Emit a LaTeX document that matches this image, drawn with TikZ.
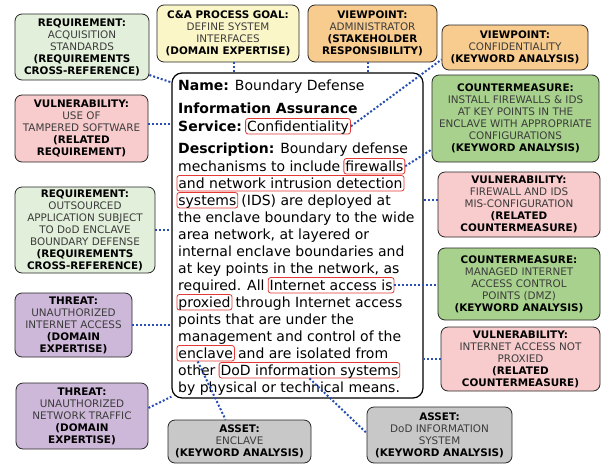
\documentclass[tikz,border=0pt]{standalone}
\usepackage{fontspec}
\setmainfont{DejaVu Sans}
\usepackage{xcolor}
\usepackage{tikz}
\usetikzlibrary{calc,positioning}
\definecolor{reqgreen}{RGB}{226,239,218}
\definecolor{goalyellow}{RGB}{251,246,200}
\definecolor{viewor}{RGB}{248,203,142}
\definecolor{cmgreen}{RGB}{168,209,141}
\definecolor{vulpink}{RGB}{248,203,205}
\definecolor{thrpurple}{RGB}{206,184,217}
\definecolor{assetgray}{RGB}{200,200,200}
\definecolor{hlred}{RGB}{229,57,53}
\definecolor{linkblue}{RGB}{40,78,180}
\definecolor{inkgray}{RGB}{60,60,60}

\begin{document}
\begin{tikzpicture}[x=1pt, y=-1pt,
  card/.style={draw=black!85, line width=0.8pt, rounded corners=7pt, align=center, inner sep=2pt,
    text=inkgray, font=\fontsize{10.4}{12}\selectfont},
  txt/.style={anchor=base west, inner sep=0pt, font=\fontsize{14}{17}\selectfont},
  hl/.style={txt, draw=hlred, line width=0.8pt, rounded corners=2.5pt, inner xsep=1.5pt, inner ysep=0.5pt,
    text height=12pt, text depth=2.5pt},
  link/.style={draw=linkblue, line width=2pt, dash pattern=on 2pt off 2pt}]
  \useasboundingbox (0,0) rectangle (602,464);

  % Central description card
  \node (core) at (297.5,235.5) [draw=black, line width=1.2pt, rounded corners=10pt, fill=white, minimum width=251, minimum height=325] {};

  \node (l1) at (178,90) [txt] {\textbf{Name:} Boundary Defense};
  \node (l2) at (178,113) [txt] {\textbf{Information Assurance}};
  \node (l3) at (178,131) [txt] {\textbf{Service:}};
  \node (conf) at ([xshift=3pt]l3.base east) [hl] {Confidentiality};
  \node (l4) at (178,153) [txt] {\textbf{Description:} Boundary defense};
  \node (l5) at (178,171) [txt] {mechanisms to include};
  \node (fw) at ([xshift=3pt]l5.base east) [hl] {firewalls};
  \node (nids) at (176.5,188) [hl] {and network intrusion detection};
  \node (sys) at (176.5,205) [hl] {systems};
  \node (l7) at ([xshift=3pt]sys.base east) [txt] {(IDS) are deployed at};
  \node (l8) at (178,222) [txt] {the enclave boundary to the wide};
  \node (l9) at (178,239) [txt] {area network, at layered or};
  \node (l10) at (178,256) [txt] {internal enclave boundaries and};
  \node (l11) at (178,273) [txt] {at key points in the network, as};
  \node (l12) at (178,290) [txt] {required. All};
  \node (ias) at ([xshift=3pt]l12.base east) [hl] {Internet access is};
  \node (prox) at (176.5,307) [hl] {proxied};
  \node (l13) at ([xshift=3pt]prox.base east) [txt] {through Internet access};
  \node (l14) at (178,324) [txt] {points that are under the};
  \node (l15) at (178,341) [txt] {management and control of the};
  \node (encl) at (176.5,358) [hl] {enclave};
  \node (l16) at ([xshift=3pt]encl.base east) [txt] {and are isolated from};
  \node (l17) at (178,375) [txt] {other};
  \node (dod) at ([xshift=3pt]l17.base east) [hl] {DoD information systems};
  \node (l18) at (178,392) [txt] {by physical or technical means.};

  % Top row
  \node (reqacq) at (82,47) [card, fill=reqgreen, minimum width=134, minimum height=66]
    {\textbf{\color{black}REQUIREMENT:}\\ACQUISITION\\STANDARDS\\\textbf{\color{black}(REQUIREMENTS}\\\textbf{\color{black}CROSS-REFERENCE)}};
  \node (cagoal) at (228,33.5) [card, fill=goalyellow, minimum width=142, minimum height=57]
    {\textbf{\color{black}C\&A PROCESS GOAL:}\\DEFINE SYSTEM\\INTERFACES\\\textbf{\color{black}(DOMAIN EXPERTISE)}};
  \node (vpadm) at (372.5,33.5) [card, fill=viewor, minimum width=129, minimum height=57]
    {\textbf{\color{black}VIEWPOINT:}\\ADMINISTRATOR\\\textbf{\color{black}(STAKEHOLDER}\\\textbf{\color{black}RESPONSIBILITY)}};
  \node (vpconf) at (515,47.5) [card, fill=viewor, minimum width=146, minimum height=45]
    {\textbf{\color{black}VIEWPOINT:}\\CONFIDENTIALITY\\\textbf{\color{black}(KEYWORD ANALYSIS)}};

  % Left column
  \node (vultamp) at (81.5,128.5) [card, fill=vulpink, minimum width=133, minimum height=67]
    {\textbf{\color{black}VULNERABILITY:}\\USE OF\\TAMPERED SOFTWARE\\\textbf{\color{black}(RELATED}\\\textbf{\color{black}REQUIREMENT)}};
  \node (reqout) at (85,230) [card, fill=reqgreen, minimum width=140, minimum height=86]
    {\textbf{\color{black}REQUIREMENT:}\\OUTSOURCED\\APPLICATION SUBJECT\\TO DoD ENCLAVE\\BOUNDARY DEFENSE\\\textbf{\color{black}(REQUIREMENTS}\\\textbf{\color{black}CROSS-REFERENCE)}};
  \node (thrnet) at (73.5,325) [card, fill=thrpurple, minimum width=117, minimum height=64]
    {\textbf{\color{black}THREAT:}\\UNAUTHORIZED\\INTERNET ACCESS\\\textbf{\color{black}(DOMAIN}\\\textbf{\color{black}EXPERTISE)}};
  \node (thrtraf) at (82,416) [card, fill=thrpurple, minimum width=132, minimum height=66]
    {\textbf{\color{black}THREAT:}\\UNAUTHORIZED\\NETWORK TRAFFIC\\\textbf{\color{black}(DOMAIN}\\\textbf{\color{black}EXPERTISE)}};

  % Right column
  \node (cmfw) at (515.5,118.5) [card, fill=cmgreen, minimum width=167, minimum height=87]
    {\textbf{\color{black}COUNTERMEASURE:}\\INSTALL FIREWALLS \& IDS\\AT KEY POINTS IN THE\\ENCLAVE WITH APPROPRIATE\\CONFIGURATIONS\\\textbf{\color{black}(KEYWORD ANALYSIS)}};
  \node (vulfw) at (519,204.5) [card, fill=vulpink, minimum width=162, minimum height=65]
    {\textbf{\color{black}VULNERABILITY:}\\FIREWALL AND IDS\\MIS-CONFIGURATION\\\textbf{\color{black}(RELATED}\\\textbf{\color{black}COUNTERMEASURE)}};
  \node (cmdmz) at (519,284) [card, fill=cmgreen, minimum width=162, minimum height=72]
    {\textbf{\color{black}COUNTERMEASURE:}\\MANAGED INTERNET\\ACCESS CONTROL\\POINTS (DMZ)\\\textbf{\color{black}(KEYWORD ANALYSIS)}};
  \node (vulprox) at (520.5,359) [card, fill=vulpink, minimum width=159, minimum height=64]
    {\textbf{\color{black}VULNERABILITY:}\\INTERNET ACCESS NOT\\PROXIED\\\textbf{\color{black}(RELATED}\\\textbf{\color{black}COUNTERMEASURE)}};

  % Bottom row
  \node (asenc) at (239.5,441.5) [card, fill=assetgray, minimum width=143, minimum height=43]
    {\textbf{\color{black}ASSET:}\\ENCLAVE\\\textbf{\color{black}(KEYWORD ANALYSIS)}};
  \node (asdod) at (439.5,435) [card, fill=assetgray, minimum width=145, minimum height=56]
    {\textbf{\color{black}ASSET:}\\DoD INFORMATION\\SYSTEM\\\textbf{\color{black}(KEYWORD ANALYSIS)}};

  % Dotted links
  \draw[link] ([yshift=-28pt]reqacq.east) -- ([yshift=-10pt]core.north west);
  \draw[link] ([xshift=5.5pt]cagoal.south) -- ([xshift=5.5pt]cagoal.south |- core.north);
  \draw[link] ([xshift=-5pt]vpadm.south) -- ([xshift=-5pt]vpadm.south |- core.north);
  \draw[link] (conf.east) -- ([yshift=-12pt]vpconf.west);
  \draw[link] ([yshift=4.5pt]vultamp.east) -- ([yshift=4.5pt]vultamp.east -| core.west);
  \draw[link] (fw.east) -- ([yshift=-31pt]cmfw.west);
  \draw[link] ([yshift=4.5pt]vulfw.west) -- ([yshift=4.5pt]vulfw.west -| core.east);
  \draw[link] (reqout.east) -- (reqout.east -| core.west);
  \draw[link] (ias.east) -- (ias.east -| cmdmz.west);
  \draw[link] (thrnet.east) -- (thrnet.east -| core.west);
  \draw[link] (vulprox.west) -- (vulprox.west -| core.east);
  \draw[link] ([yshift=8pt]thrtraf.east) -- ([yshift=2pt]core.south west);
  \draw[link] ([xshift=-8pt]encl.south) -- ([xshift=-14pt]asenc.north);
  \draw[link] (dod.south) -- ([yshift=2pt]asdod.west);

\end{tikzpicture}
\end{document}
